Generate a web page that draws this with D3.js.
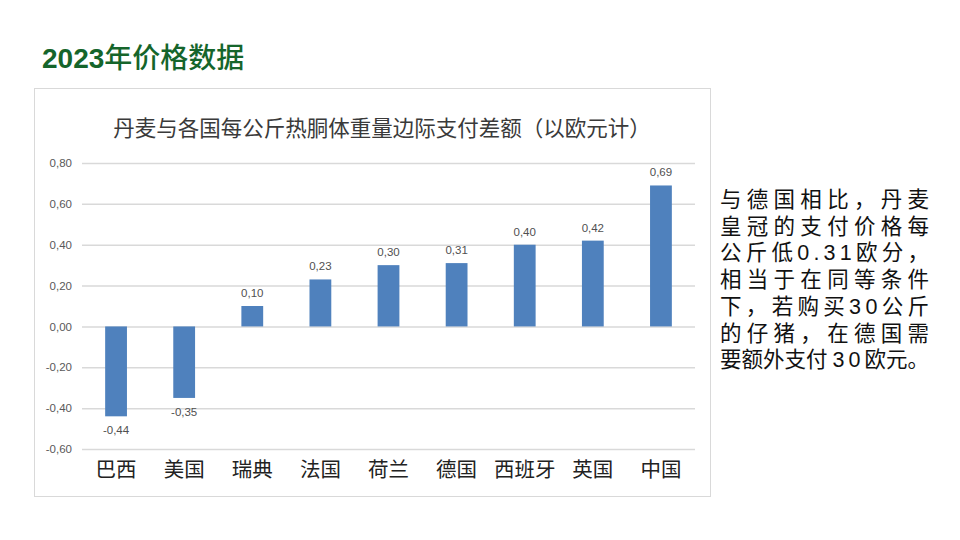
<!DOCTYPE html>
<html><head><meta charset="utf-8">
<script src="https://cdn.jsdelivr.net/npm/d3@7"></script>
<style>
html,body{margin:0;padding:0;background:#fff;}
svg{display:block;}
</style></head>
<body>
<svg id="c" width="960" height="540"></svg>
<script>
const categories = ["巴西","美国","瑞典","法国","荷兰","德国","西班牙","英国","中国"];
const values = [-0.44,-0.35,0.10,0.23,0.30,0.31,0.40,0.42,0.69];
const yTicks = [0.8,0.6,0.4,0.2,0.0,-0.2,-0.4,-0.6];
const pageTitle = "2023年价格数据";
const chartTitle = "丹麦与各国每公斤热胴体重量边际支付差额（以欧元计）";
const noteLines = ["与德国相比，丹麦","皇冠的支付价格每","公斤低0.31欧分，","相当于在同等条件","下，若购买30公斤","的仔猪，在德国需","要额外支付30欧元。"];

const svg = d3.select("#c");
const fmt = v => d3.format(".2f")(v).replace(".", ",").replace("−","-");

// page title
const pt = svg.append("text").attr("x",42).attr("y",68)
  .attr("fill","#15652b").attr("font-size",28).attr("font-weight",700);
pt.append("tspan").attr("font-family","Liberation Sans, Arial, sans-serif").text("2023");
pt.append("tspan").attr("font-family","Noto Sans CJK SC").attr("font-weight",500).text(pageTitle.slice(4));

// chart frame
svg.append("rect").attr("x",34.5).attr("y",88.5).attr("width",676).attr("height",408)
  .attr("fill","#fff").attr("stroke","#d9d9d9").attr("stroke-width",1);

svg.append("text").attr("x",382).attr("y",136).attr("text-anchor","middle")
  .attr("font-family","Noto Sans CJK SC").attr("font-size",21.5).attr("fill","#3a3a3a")
  .text(chartTitle);

const x = d3.scaleBand().domain(categories).range([82,695]).paddingInner(0.68).paddingOuter(0.34);
const y = d3.scaleLinear().domain([-0.6,0.8]).range([449,163]);

// gridlines
const yAxis = d3.axisLeft(y).tickValues(yTicks).tickSize(-(695-82)).tickFormat(fmt).tickPadding(10);
const ga = svg.append("g").attr("transform","translate(82,0)").call(yAxis);
ga.select(".domain").remove();
ga.selectAll(".tick line").attr("stroke","#d9d9d9").attr("stroke-width",1.5);
ga.selectAll(".tick text").attr("font-family","Liberation Sans, Arial, sans-serif").attr("font-size",11.5).attr("fill","#595959");

// bars
svg.append("g").selectAll("rect").data(values).join("rect")
  .attr("x",(d,i)=>x(categories[i]))
  .attr("width",x.bandwidth())
  .attr("y",d=>y(Math.max(0,d)))
  .attr("height",d=>Math.abs(y(d)-y(0)))
  .attr("fill","#4f81bd");

// data labels
svg.append("g").selectAll("text").data(values).join("text")
  .attr("x",(d,i)=>x(categories[i])+x.bandwidth()/2)
  .attr("y",d=> d>=0 ? y(d)-9 : y(d)+18)
  .attr("text-anchor","middle")
  .attr("font-family","Liberation Sans, Arial, sans-serif").attr("font-size",11.5).attr("fill","#505050")
  .text(d=>fmt(d));

// category axis labels
const xAxis = d3.axisBottom(x).tickSize(0).tickPadding(0);
const gx = svg.append("g").attr("transform","translate(0,465)").call(xAxis);
gx.select(".domain").remove();
gx.selectAll(".tick text").attr("font-family","Noto Sans CJK SC").attr("font-size",20.5).attr("fill","#222").attr("dy","0.6em");

// note text: first lines justified to the block width, last line natural with wider digits
const notes = svg.append("g").selectAll("text").data(noteLines).join("text")
  .attr("x",720).attr("y",(d,i)=>207+i*26.7)
  .attr("font-family","Liberation Sans, Noto Sans CJK SC, sans-serif").attr("font-size",21.5)
  .attr("fill","#111");
notes.each(function(d,i){
  const t = d3.select(this);
  if(i < noteLines.length-1){
    t.attr("textLength",209).attr("lengthAdjust","spacing").text(d);
  } else {
    const parts = d.split(/(\d+)/).filter(s=>s.length);
    parts.forEach(p=>{
      const ts = t.append("tspan").text(p);
      if(/^\d+$/.test(p)) ts.attr("dx",5).attr("letter-spacing",4);
      else ts.attr("dx",0);
    });
  }
});
</script>
</body></html>
